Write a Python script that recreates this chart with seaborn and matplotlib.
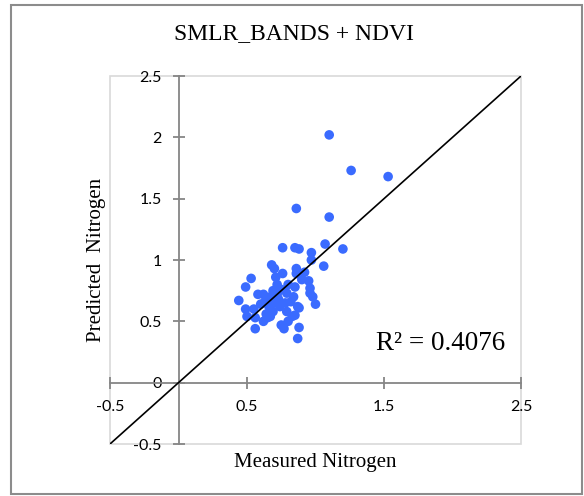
import matplotlib
matplotlib.use("Agg")
import matplotlib.pyplot as plt
from matplotlib.patches import Rectangle
import seaborn as sns
import pandas as pd

measured = [1.10, 1.26, 1.53, 0.86, 1.10, 1.07, 1.20, 0.76, 0.85, 0.88,
            0.97, 0.97, 1.06, 0.68, 0.70, 0.76, 0.71, 0.53, 0.86, 0.86,
            0.92, 0.95, 0.49, 0.85, 0.96, 0.96, 0.98, 0.44, 0.58, 0.62,
            0.69, 0.75, 0.79, 0.84, 1.00, 0.87, 0.78, 0.73, 0.67, 0.63,
            0.60, 0.55, 0.49, 0.50, 0.56, 0.62, 0.67, 0.69, 0.79, 0.83,
            0.88, 0.85, 0.75, 0.77, 0.80, 0.88, 0.87, 0.56, 0.80, 0.72,
            0.66, 0.70, 0.74, 0.82, 0.64, 0.72, 0.90, 0.65]
predicted = [2.02, 1.73, 1.68, 1.42, 1.35, 1.13, 1.09, 1.10, 1.10, 1.09,
             1.06, 1.00, 0.95, 0.96, 0.93, 0.89, 0.86, 0.85, 0.93, 0.89,
             0.90, 0.83, 0.78, 0.78, 0.77, 0.73, 0.70, 0.67, 0.72, 0.72,
             0.75, 0.76, 0.73, 0.70, 0.64, 0.62, 0.65, 0.68, 0.70, 0.66,
             0.64, 0.60, 0.60, 0.54, 0.53, 0.50, 0.54, 0.58, 0.58, 0.54,
             0.61, 0.55, 0.47, 0.44, 0.50, 0.45, 0.36, 0.44, 0.80, 0.72,
             0.62, 0.65, 0.62, 0.66, 0.56, 0.80, 0.84, 0.53]
one_to_one = [-0.5, 2.5]
x_ticks = [-0.5, 0.5, 1.5, 2.5]
x_tick_labels = ["-0.5", "0.5", "1.5", "2.5"]
y_ticks = [-0.5, 0, 0.5, 1, 1.5, 2, 2.5]
y_tick_labels = ["-0.5", "0", "0.5", "1", "1.5", "2", "2.5"]
title = "SMLR_BANDS + NDVI"
x_label = "Measured Nitrogen"
y_label = "Predicted  Nitrogen"
r2_text = "R² = 0.4076"

axis_col = "#868686"
plt.rcParams["font.family"] = ["Lato", "DejaVu Sans"]

W, H = 584, 496
fig = plt.figure(figsize=(W / 100, H / 100), dpi=100)
ax = fig.add_axes([110 / W, 1 - 444 / H, (521 - 110) / W, (444 - 76) / H])

df = pd.DataFrame({"Measured": measured, "Predicted": predicted})
sns.scatterplot(data=df, x="Measured", y="Predicted", ax=ax, color="#3A6BFF",
                s=48, edgecolor="none", zorder=3)
sns.lineplot(x=one_to_one, y=one_to_one, ax=ax, color="black", linewidth=1.2,
             zorder=4)

ax.set_xlim(-0.5, 2.5)
ax.set_ylim(-0.5, 2.5)
ax.set_xlabel("")
ax.set_ylabel("")

for s in ["left", "bottom"]:
    ax.spines[s].set_position(("data", 0))
    ax.spines[s].set_color(axis_col)
    ax.spines[s].set_linewidth(1.3)
for s in ["top", "right"]:
    ax.spines[s].set_visible(False)

ax.add_patch(Rectangle((0, 0), 1, 1, transform=ax.transAxes, fill=False,
                       edgecolor="#d9d9d9", linewidth=1.2, zorder=1,
                       clip_on=False))

ax.set_xticks(x_ticks)
ax.set_xticklabels(x_tick_labels)
ax.set_yticks(y_ticks)
ax.set_yticklabels(y_tick_labels)
ax.tick_params(axis="both", which="major", bottom=True, left=True,
               top=False, right=False,
               direction="inout", length=9, width=1.3, color=axis_col,
               labelcolor="black", labelsize=11.5)
ax.tick_params(axis="x", pad=8)
ax.tick_params(axis="y", pad=7.5)

serif = ["Liberation Serif", "DejaVu Serif"]
fig.text(293.5 / W, 1 - 34 / H, title, family=serif, fontsize=17,
         ha="center", va="center")
fig.text(315 / W, 1 - 462 / H, x_label, family=serif, fontsize=15,
         ha="center", va="center")
fig.text(97 / W, 1 - 260 / H, y_label, family=serif, fontsize=15,
         ha="center", va="center", rotation=90)
ax.text(2.383, 0.27, r2_text, family=serif, fontsize=19.5, ha="right",
        va="baseline")

fig.add_artist(Rectangle((11 / W, 1 - 494 / H), 571 / W, 489 / H,
                         transform=fig.transFigure, fill=False,
                         edgecolor="#8c8c8c", linewidth=1.5))

fig.savefig("out.png", dpi=100)
